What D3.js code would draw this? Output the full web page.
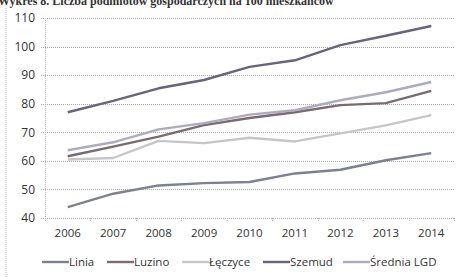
<!DOCTYPE html>
<html>
<head>
<meta charset="utf-8">
<script src="https://cdn.jsdelivr.net/npm/d3@7"></script>
<style>
	body { margin: 0; background: #fff; }
	#viz svg { display: block; }
</style>
</head>
<body>
<div id="viz"></div>
<script>
let years = ["2006", "2007", "2008", "2009", "2010", "2011", "2012", "2013", "2014"];
let yTicks = [40, 50, 60, 70, 80, 90, 100, 110];
let seriesNames = ["Linia", "Luzino", "Łęczyce", "Szemud", "Średnia LGD"];
let linia   = [43.8, 48.5, 51.4, 52.2, 52.6, 55.6, 56.9, 60.2, 62.7];
let luzino  = [61.6, 65.0, 68.5, 72.5, 75.0, 77.0, 79.5, 80.2, 84.5];
let leczyce = [60.5, 61.0, 67.0, 66.2, 68.1, 66.8, 69.6, 72.4, 76.0];
let szemud  = [77.0, 81.0, 85.4, 88.3, 92.9, 95.2, 100.5, 103.8, 107.2];
let srednia = [63.7, 66.5, 71.0, 73.2, 76.2, 77.7, 81.2, 84.0, 87.6];

function draw() {
	let width = 464, height = 277;
	let colors = ["#7d808e", "#7a6a72", "#c6c6c6", "#68647a", "#aeabbd"];
	let data = [linia, luzino, leczyce, szemud, srednia];

	let svg = d3.select("#viz").append("svg")
		.attr("width", width).attr("height", height);

	// title, top part cut off as in the scan
	svg.append("text")
		.attr("x", -2).attr("y", 5)
		.style("font-family", "'Liberation Serif', serif")
		.style("font-weight", "bold")
		.style("font-size", "12px")
		.style("fill", "#333")
		.text("Wykres 8. Liczba podmiotów gospodarczych na 100 mieszkańców");

	// outer frame (dotted, left edge only visible)
	svg.append("line")
		.attr("x1", 6).attr("x2", 6).attr("y1", 8).attr("y2", height)
		.attr("stroke", "#bbb").attr("stroke-dasharray", "1,1");

	let x = d3.scaleBand().domain(years).range([45, 454]);
	let y = d3.scaleLinear().domain([40, 110]).range([218, 18]);
	let cx = d => x(d) + x.bandwidth() / 2;

	// gridlines
	svg.append("g").selectAll("line")
		.data(yTicks)
		.join("line")
		.attr("x1", 41).attr("x2", 454)
		.attr("y1", d => Math.round(y(d)) + 0.5).attr("y2", d => Math.round(y(d)) + 0.5)
		.attr("stroke", "#aaa")
		.attr("stroke-dasharray", "1,1");

	// y axis line
	svg.append("line")
		.attr("x1", 45.5).attr("x2", 45.5).attr("y1", y(110)).attr("y2", y(40))
		.attr("stroke", "#bbb").attr("stroke-dasharray", "1,1");

	// x tick marks at category boundaries
	svg.append("g").selectAll("line")
		.data(years.concat(["end"]))
		.join("line")
		.attr("x1", (d, i) => Math.round(45 + i * x.step()) + 0.5)
		.attr("x2", (d, i) => Math.round(45 + i * x.step()) + 0.5)
		.attr("y1", y(40)).attr("y2", y(40) + 4)
		.attr("stroke", "#aaa").attr("stroke-dasharray", "1,1");

	let yAxis = svg.append("g")
		.attr("transform", "translate(41,0)")
		.call(d3.axisLeft(y).tickValues(yTicks).tickSize(0).tickPadding(6));
	yAxis.select(".domain").remove();
	yAxis.selectAll("text")
		.style("font-family", "'Open Sans', sans-serif")
		.style("font-size", "12px")
		.style("fill", "#333");

	let xAxis = svg.append("g")
		.attr("transform", "translate(0," + y(40) + ")")
		.call(d3.axisBottom(x).tickSize(0).tickPadding(11));
	xAxis.select(".domain").remove();
	xAxis.selectAll("text")
		.style("font-family", "'Open Sans', sans-serif")
		.style("font-size", "11.5px")
		.style("fill", "#333");

	// series lines
	let line = d3.line()
		.x((d, i) => cx(years[i]))
		.y(d => y(d));

	svg.append("g").selectAll("path")
		.data(data)
		.join("path")
		.attr("d", d => line(d))
		.attr("fill", "none")
		.attr("stroke", (d, i) => colors[i])
		.attr("stroke-width", 2.4)
		.attr("stroke-linejoin", "round");

	// legend
	let legendX = [42, 107, 182, 263, 343];
	let leg = svg.append("g").selectAll("g")
		.data(seriesNames)
		.join("g")
		.attr("transform", (d, i) => "translate(" + legendX[i] + ",262)");
	leg.append("line")
		.attr("x1", 0).attr("x2", 27).attr("y1", 0).attr("y2", 0)
		.attr("stroke", (d, i) => colors[i])
		.attr("stroke-width", 2.4);
	leg.append("text")
		.attr("x", 27).attr("y", 4)
		.style("font-family", "'Open Sans', sans-serif")
		.style("font-size", "11.5px")
		.style("fill", "#333")
		.text(d => d);
}
draw();
</script>
</body>
</html>
